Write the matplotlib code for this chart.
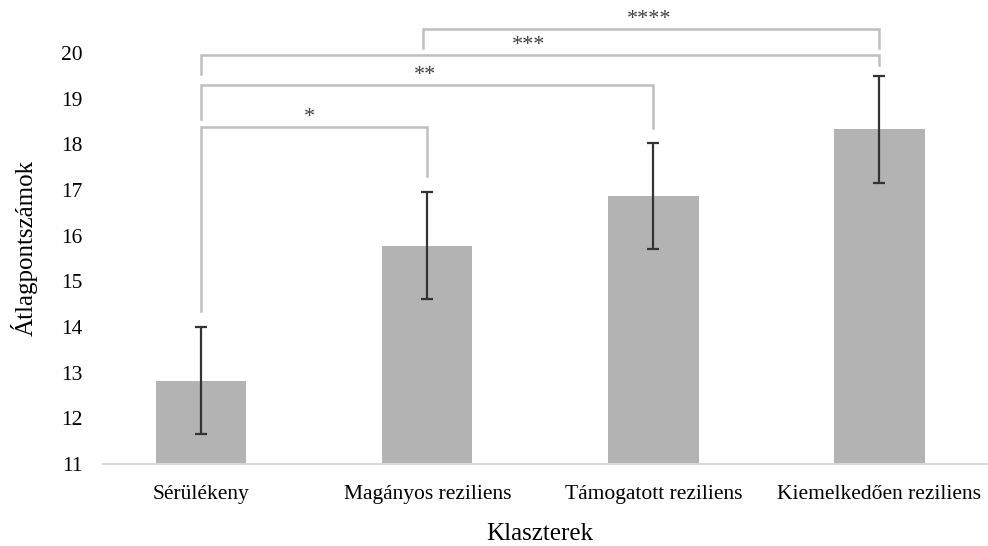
import matplotlib.pyplot as plt

plt.rcParams['font.family'] = ['Liberation Serif', 'DejaVu Serif']

clusters = ['Sérülékeny', 'Magányos reziliens', 'Támogatott reziliens', 'Kiemelkedően reziliens']
means = [12.82, 15.78, 16.87, 18.33]
errors = [1.17, 1.17, 1.17, 1.17]

# significance brackets: (left bar, right bar, line height, left leg end, right leg end, label)
brackets = [
    (0, 1, 18.37, 14.35, 17.30, '*'),
    (0, 2, 19.30, 18.55, 18.36, '**'),
    (0, 3, 19.96, 19.53, 19.73, '***'),
    (0.98, 3, 20.52, 20.11, 20.11, '****'),
]
label_x = [0.48, 0.99, 1.45, 1.98]

fig = plt.figure(figsize=(9.88, 5.46), dpi=100)
ax = fig.add_axes([0.1043, 0.1502, 0.8957, 0.7527])

x = range(len(clusters))
ax.bar(x, means, width=0.4, color='#b3b3b3', zorder=2)
ax.errorbar(x, means, yerr=errors, fmt='none', ecolor='#333333',
            elinewidth=1.6, capsize=4.5, capthick=1.6, zorder=3)

ax.set_ylim(11, 20)
ax.set_xlim(-0.434, 3.48)
ax.set_yticks(range(11, 21))
ax.set_xticks(list(x))
ax.set_xticklabels(clusters)
ax.tick_params(axis='both', length=0, labelsize=15.5, colors='black')
ax.tick_params(axis='y', pad=15)
ax.tick_params(axis='x', pad=15)
for s in ['top', 'right', 'left']:
    ax.spines[s].set_visible(False)
ax.spines['bottom'].set_color('#d9d9d9')
ax.spines['bottom'].set_linewidth(1.5)

for (a, b, h, la, lb, lab), lx in zip(brackets, label_x):
    ax.plot([a, a, b, b], [la, h, h, lb], color='#bfbfbf', lw=1.8,
            clip_on=False, zorder=1, solid_joinstyle='miter')
    ax.text(lx, h + 0.0, lab, ha='center', va='bottom', fontsize=16,
            color='#404040', clip_on=False)

fig.text(0.025, 0.546, 'Átlagpontszámok', rotation=90, ha='center', va='center', fontsize=18)
fig.text(0.5466, 0.011, 'Klaszterek', ha='center', va='baseline', fontsize=18)

fig.savefig('out.png', dpi=100)
